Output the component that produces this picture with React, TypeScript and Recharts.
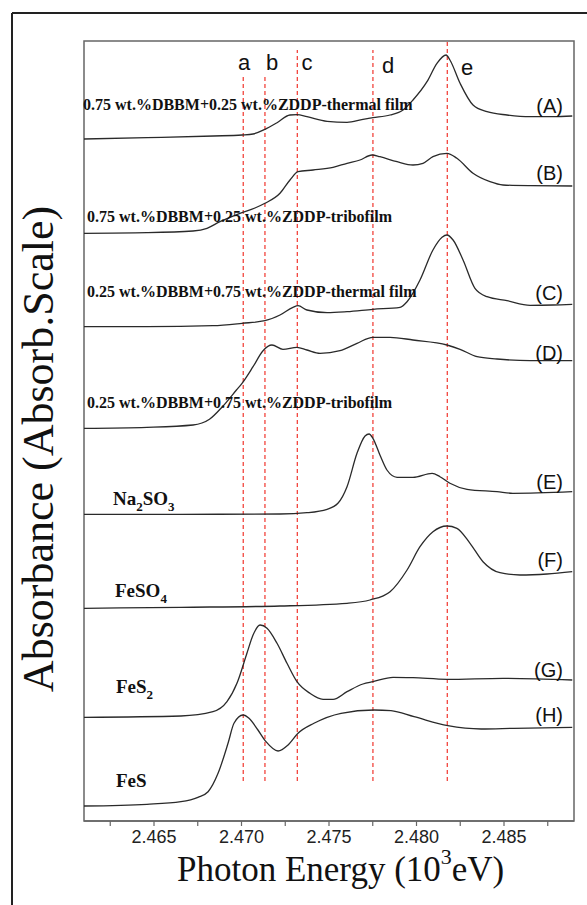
import React from "react";
import { LineChart, Line, XAxis, YAxis, ReferenceLine, ReferenceArea } from "recharts";

// Photon energy (10^3 eV) and stacked absorbance (arbitrary units) for each spectrum
const eA = [2.461, 2.4646, 2.4684, 2.47003, 2.47066, 2.47134, 2.47203, 2.47277, 2.47317, 2.47374, 2.47489, 2.47603, 2.47694, 2.47751, 2.47849, 2.47923, 2.4798, 2.4806, 2.48117, 2.48169, 2.48191, 2.48249, 2.48323, 2.48403, 2.48517, 2.48649, 2.4878, 2.4889];
const yA = [682, 683.3, 685, 686, 687, 691.7, 698.3, 706, 706.3, 704.3, 699.7, 698.7, 701.7, 703.3, 706, 711, 721, 739.3, 757.7, 766, 761, 737.7, 716, 709.3, 706, 704.3, 704.3, 705];

const eB = [2.461, 2.4646, 2.46723, 2.46803, 2.46877, 2.46991, 2.47077, 2.47134, 2.4722, 2.47277, 2.47323, 2.47409, 2.47523, 2.47603, 2.47677, 2.47746, 2.47791, 2.47889, 2.4798, 2.48037, 2.48094, 2.48174, 2.48231, 2.48323, 2.4842, 2.48494, 2.48649, 2.4889];
const yB = [587.7, 588.3, 590, 592.7, 599.3, 607.7, 613, 617.7, 627.7, 641, 649.3, 651, 653.7, 657.7, 661, 666, 664.3, 659.3, 656, 657.7, 664.3, 667.7, 662.7, 647.7, 639.3, 636, 635.3, 635];

const eC = [2.461, 2.4646, 2.46837, 2.47003, 2.47134, 2.4722, 2.47294, 2.47323, 2.47374, 2.47489, 2.47603, 2.47751, 2.47906, 2.47946, 2.4802, 2.48094, 2.48146, 2.48174, 2.48209, 2.48266, 2.48334, 2.48403, 2.48517, 2.48649, 2.4878, 2.4889];
const yC = [494.3, 494.3, 495.3, 497.7, 500.3, 506, 513.7, 515.3, 511, 508.3, 509.3, 511.7, 513.7, 519.3, 541, 571, 583.7, 586, 581, 561, 532.7, 524.3, 520.3, 515.7, 516, 516.7];

const eD = [2.461, 2.4646, 2.46723, 2.46817, 2.46891, 2.46971, 2.47003, 2.47066, 2.47123, 2.47174, 2.47237, 2.47317, 2.47374, 2.47449, 2.47563, 2.4766, 2.47751, 2.47849, 2.4798, 2.48174, 2.48249, 2.48346, 2.4846, 2.48649, 2.4889];
const yD = [392.7, 393.7, 396, 401.7, 414.3, 431, 437.7, 454.3, 470.3, 476, 471.7, 473.7, 471, 467.7, 470.3, 477.7, 483.7, 483.7, 481, 476, 471.7, 464.3, 462, 460.3, 460.3];

const eE = [2.461, 2.46654, 2.4722, 2.47374, 2.47489, 2.47551, 2.47603, 2.4766, 2.47706, 2.47729, 2.47751, 2.47791, 2.47831, 2.47889, 2.4798, 2.48089, 2.48134, 2.48191, 2.48289, 2.4846, 2.48551, 2.4889];
const yE = [306.7, 306.7, 307, 308.3, 311.7, 317.7, 334.3, 367.7, 385, 387, 382.7, 366, 351, 343.7, 343.7, 347.7, 344.3, 337.7, 331.7, 329.3, 327.7, 329.3];

const eF = [2.461, 2.46654, 2.4722, 2.47603, 2.47734, 2.47849, 2.47946, 2.4802, 2.48094, 2.48174, 2.48231, 2.48306, 2.4838, 2.48477, 2.48591, 2.48746, 2.4889];
const yF = [212.7, 213.7, 215, 217.7, 221, 229.3, 251, 274.3, 289.3, 295, 292.7, 277.7, 259.3, 248.3, 246, 247, 249.3];

const eG = [2.461, 2.46654, 2.46837, 2.46917, 2.46974, 2.47031, 2.47066, 2.47106, 2.47146, 2.47203, 2.4726, 2.47317, 2.47391, 2.47466, 2.47523, 2.47603, 2.47694, 2.47751, 2.47866, 2.4798, 2.48174, 2.48494, 2.4889];
const yG = [103.7, 105, 109.3, 119.3, 137.7, 167.7, 186, 196, 192.7, 177.7, 157.7, 139.3, 127.7, 121.7, 121.7, 129.3, 137, 139.3, 143.7, 143.3, 141.7, 142.7, 141];

const eH = [2.461, 2.4646, 2.46654, 2.46751, 2.46809, 2.46866, 2.46923, 2.46957, 2.47009, 2.47043, 2.47094, 2.4714, 2.47209, 2.47266, 2.47323, 2.47414, 2.47569, 2.47757, 2.47854, 2.47986, 2.48179, 2.48369, 2.48557, 2.4889];
const yH = [15, 16.7, 19.3, 23.7, 29.3, 47.7, 77.7, 97.7, 106, 102.7, 91, 79.3, 70, 76, 87.7, 97.7, 107.7, 111, 110.3, 104.3, 95.3, 92, 92.7, 93.7];

// Reference energies (dashed lines a-e) and the y range each spans
const refNames = ["a", "b", "c", "d", "e"];
const refEnergies = [2.4701, 2.47134, 2.47319, 2.47751, 2.48176];
const refTops = [744, 744, 771, 771, 780];
const refBottom = 40;

const xTicks = [2.4625, 2.465, 2.4675, 2.47, 2.4725, 2.475, 2.4775, 2.48, 2.4825, 2.485, 2.4875];
const xDomain = [2.461, 2.489];
const yDomain = [0, 780];

const filmLabels = [
  "0.75 wt.%DBBM+0.25 wt.%ZDDP-thermal film",
  "0.75 wt.%DBBM+0.25 wt.%ZDDP-tribofilm",
  "0.25 wt.%DBBM+0.75 wt.%ZDDP-thermal film",
  "0.25 wt.%DBBM+0.75 wt.%ZDDP-tribofilm",
];
const curveTags = ["(A)", "(B)", "(C)", "(D)", "(E)", "(F)", "(G)", "(H)"];

const mk = (xs: number[], ys: number[]) => xs.map((e, i) => ({ e, v: ys[i] }));
const series = [
  mk(eA, yA), mk(eB, yB), mk(eC, yC), mk(eD, yD),
  mk(eE, yE), mk(eF, yF), mk(eG, yG), mk(eH, yH),
];

const SERIF = "'Liberation Serif', 'Times New Roman', serif";
const SANS = "'Liberation Sans', Arial, sans-serif";

const isMajor = (v: number) => Math.abs(Math.round(v * 200) - v * 200) < 1e-6;

export default function App() {
  const W = 587, H = 905;
  // text overlay positions (layout only)
  const filmPos = [
    { x: 83, y: 110 },
    { x: 87, y: 222 },
    { x: 87, y: 297 },
    { x: 87, y: 408 },
  ];
  const tagY = [106, 173, 293, 353, 482, 560, 670, 715];
  const letterPos = [
    { x: 244, y: 70 },
    { x: 272, y: 70 },
    { x: 307, y: 70 },
    { x: 388, y: 73 },
    { x: 467, y: 75 },
  ];
  const compFont = 19;
  const sub = (t: string) => (
    <tspan fontSize={13} dy={6}>{t}</tspan>
  );
  const unsub = (t: string) => (
    <tspan fontSize={compFont} dy={-6}>{t}</tspan>
  );
  return (
    <div style={{ position: "absolute", left: 0, top: 0, width: W, height: H, background: "#fff" }}>
      <LineChart width={W} height={H} margin={{ top: 41, right: 13, bottom: 0, left: 84 }}>
        <XAxis
          dataKey="e"
          type="number"
          domain={xDomain}
          ticks={xTicks}
          allowDataOverflow
          height={84}
          tickSize={5}
          tickMargin={4}
          tickFormatter={(v: number) => (isMajor(v) ? v.toFixed(3) : "")}
          tick={{ fontFamily: SANS, fontSize: 18, fill: "#222" }}
          axisLine={{ stroke: "#666", strokeWidth: 1.5 }}
          tickLine={{ stroke: "#666", strokeWidth: 1.2 }}
        />
        <YAxis hide type="number" domain={yDomain} allowDataOverflow />
        <ReferenceArea
          x1={xDomain[0]}
          x2={xDomain[1]}
          y1={yDomain[0]}
          y2={yDomain[1]}
          fill="none"
          fillOpacity={0}
          stroke="#666"
          strokeWidth={1.5}
          ifOverflow="visible"
        />
        {refEnergies.map((x, i) => (
          <ReferenceLine
            key={refNames[i]}
            segment={[{ x, y: refBottom }, { x, y: refTops[i] }]}
            stroke="#f2453d"
            strokeWidth={1.3}
            strokeDasharray="4 3"
          />
        ))}
        {series.map((d, i) => (
          <Line
            key={curveTags[i]}
            data={d}
            dataKey="v"
            type="monotone"
            stroke="#2a2a2a"
            strokeWidth={1.3}
            dot={false}
            activeDot={false}
            isAnimationActive={false}
          />
        ))}
      </LineChart>
      <svg
        width={W}
        height={H}
        style={{ position: "absolute", left: 0, top: 0, pointerEvents: "none" }}
      >
        <line x1={12} y1={13} x2={12} y2={H} stroke="#222" strokeWidth={2} />
        <line x1={12} y1={13} x2={W} y2={13} stroke="#222" strokeWidth={2} />
        {refNames.map((n, i) => (
          <text key={n} x={letterPos[i].x} y={letterPos[i].y} textAnchor="middle" fontFamily={SANS} fontSize={22} fill="#111">
            {n}
          </text>
        ))}
        {filmLabels.map((t, i) => (
          <text key={t} x={filmPos[i].x} y={filmPos[i].y} fontFamily={SERIF} fontWeight="bold" fontSize={16} fill="#111">
            {t}
          </text>
        ))}
        {curveTags.map((t, i) => (
          <text key={t} x={563} y={tagY[i] + 7} textAnchor="end" fontFamily={SANS} fontSize={20} fill="#111">
            {t}
          </text>
        ))}
        <text x={113} y={505} fontFamily={SERIF} fontWeight="bold" fontSize={compFont} fill="#111">
          Na{sub("2")}{unsub("SO")}{sub("3")}
        </text>
        <text x={115} y={597} fontFamily={SERIF} fontWeight="bold" fontSize={compFont} fill="#111">
          FeSO{sub("4")}
        </text>
        <text x={116} y={693} fontFamily={SERIF} fontWeight="bold" fontSize={compFont} fill="#111">
          FeS{sub("2")}
        </text>
        <text x={116} y={787} fontFamily={SERIF} fontWeight="bold" fontSize={compFont} fill="#111">
          FeS
        </text>
        <text x={177} y={881} fontFamily={SERIF} fontSize={35} fill="#111">
          Photon Energy (10
          <tspan fontSize={22} dy={-17}>3</tspan>
          <tspan dy={17}>eV)</tspan>
        </text>
        <text
          x={0}
          y={0}
          transform="translate(53,449) rotate(-90)"
          textAnchor="middle"
          fontFamily={SERIF}
          fontSize={44}
          fill="#111"
        >
          Absorbance (Absorb.Scale)
        </text>
      </svg>
    </div>
  );
}
